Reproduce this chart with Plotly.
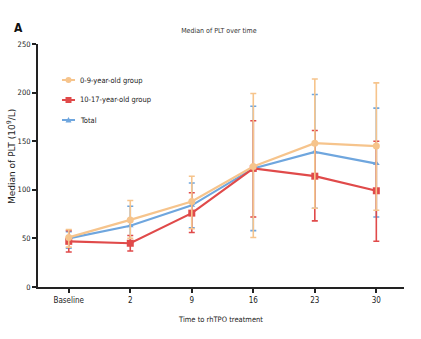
import plotly.graph_objects as go

# Time points after rhTPO treatment
categories = ["Baseline", "2", "9", "16", "23", "30"]

# Median PLT (10^9/L) with upper / lower whiskers per group
young_median = [51, 69, 88, 124, 148, 145]
young_upper = [59, 89, 114, 199, 214, 210]
young_lower = [41, 50, 60, 51, 81, 79]

older_median = [47, 45, 76, 122, 114, 99]
older_upper = [58, 53, 97, 171, 161, 150]
older_lower = [36, 37, 56, 72, 68, 47]

total_median = [50, 63, 84, 122, 139, 127]
total_upper = [57, 83, 107, 186, 198, 184]
total_lower = [40, 45, 61, 58, 81, 72]

y_ticks = [0, 50, 100, 150, 200, 250]

x = list(range(len(categories)))

ORANGE, RED, BLUE = "#F6C48C", "#E04A4A", "#6FA6DE"

# drawing order: total first, the 0-9 group on top
series = [
    ("Total", total_median, total_upper, total_lower, BLUE, "triangle-up", 6),
    ("10-17-year-old group", older_median, older_upper, older_lower, RED, "square", 7),
    ("0-9-year-old group", young_median, young_upper, young_lower, ORANGE, "circle", 7),
]

narrow = "DejaVu Sans Condensed, Liberation Sans Narrow, sans-serif"

fig = go.Figure()
for name, med, up, lo, color, sym, size in series:
    fig.add_trace(go.Scatter(
        x=x, y=med, name=name, mode="lines+markers", showlegend=False,
        line=dict(color=color, width=2.2),
        marker=dict(symbol=sym, size=size, color=color),
        error_y=dict(
            type="data", symmetric=False,
            array=[u - m for u, m in zip(up, med)],
            arrayminus=[m - l for m, l in zip(med, lo)],
            color=color, thickness=1.6, width=3,
        ),
    ))

fig.update_layout(
    width=421, height=339,
    margin=dict(l=38, r=17, t=44, b=52),
    plot_bgcolor="white", paper_bgcolor="white",
    font=dict(family=narrow, size=8, color="#222"),
    title=dict(text="Median of PLT over time", x=0.52, xanchor="center",
               y=0.91, yanchor="middle", font=dict(family=narrow, size=7, color="#333")),
    showlegend=False,
    xaxis=dict(
        range=[-0.5, 5.45], tickvals=x, ticktext=categories,
        showline=True, linecolor="#222", linewidth=2,
        ticks="outside", ticklen=4, tickwidth=1.5, tickcolor="#222",
        showgrid=False, zeroline=False, automargin=False,
        tickfont=dict(family=narrow, size=8, color="#222"),
        title=dict(text="Time to rhTPO treatment", standoff=13,
                   font=dict(family=narrow, size=7.5, color="#222")),
    ),
    yaxis=dict(
        range=[0, 250], tickvals=y_ticks,
        showline=True, linecolor="#222", linewidth=2,
        ticks="outside", ticklen=4, tickwidth=1.5, tickcolor="#222",
        showgrid=False, zeroline=False, automargin=False,
        tickfont=dict(family=narrow, size=7.5, color="#222"),
    ),
)

plot_w, plot_h = 421 - 38 - 17, 339 - 44 - 52

# y-axis title, placed close to the tick labels
fig.add_annotation(text="Median of PLT (10<sup>9</sup>/L)", textangle=-90,
                   x=(11 - 38) / plot_w, y=(287 - 157) / plot_h,
                   xref="paper", yref="paper", xanchor="center", yanchor="middle",
                   showarrow=False,
                   font=dict(family="DejaVu Sans, Verdana, sans-serif", size=9, color="#222"))

# panel letter
fig.add_annotation(text="<b>A</b>", x=-0.07, y=1.066, xref="paper", yref="paper",
                   xanchor="left", yanchor="middle", showarrow=False,
                   font=dict(family=narrow, size=12, color="#111"))

# compact legend: short line sample with marker, label to the right
legend_rows = [
    ("0-9-year-old group", ORANGE, "circle"),
    ("10-17-year-old group", RED, "square"),
    ("Total", BLUE, "triangle"),
]
for i, (label, color, shape) in enumerate(legend_rows):
    py = 80 + 20 * i
    yp = (339 - 52 - py) / plot_h
    x0 = (62 - 38) / plot_w
    x1 = (75 - 38) / plot_w
    xc = (68.5 - 38) / plot_w
    fig.add_shape(type="line", xref="paper", yref="paper", x0=x0, x1=x1, y0=yp, y1=yp,
                  line=dict(color=color, width=2))
    if shape == "circle":
        fig.add_shape(type="circle", xref="paper", yref="paper",
                      xsizemode="pixel", ysizemode="pixel", xanchor=xc, yanchor=yp,
                      x0=-3, x1=3, y0=-3, y1=3, fillcolor=color, line=dict(width=0))
    elif shape == "square":
        fig.add_shape(type="rect", xref="paper", yref="paper",
                      xsizemode="pixel", ysizemode="pixel", xanchor=xc, yanchor=yp,
                      x0=-3, x1=3, y0=-3, y1=3, fillcolor=color, line=dict(width=0))
    else:
        fig.add_shape(type="path", xref="paper", yref="paper",
                      xsizemode="pixel", ysizemode="pixel", xanchor=xc, yanchor=yp,
                      path="M -3,-2.5 L 3,-2.5 L 0,3 Z", fillcolor=color, line=dict(width=0))
    fig.add_annotation(text=label, x=(78 - 38) / plot_w, y=yp, xref="paper", yref="paper",
                       xanchor="left", yanchor="middle", showarrow=False,
                       font=dict(family=narrow, size=7.5, color="#222"))

fig.write_html("out.html")
